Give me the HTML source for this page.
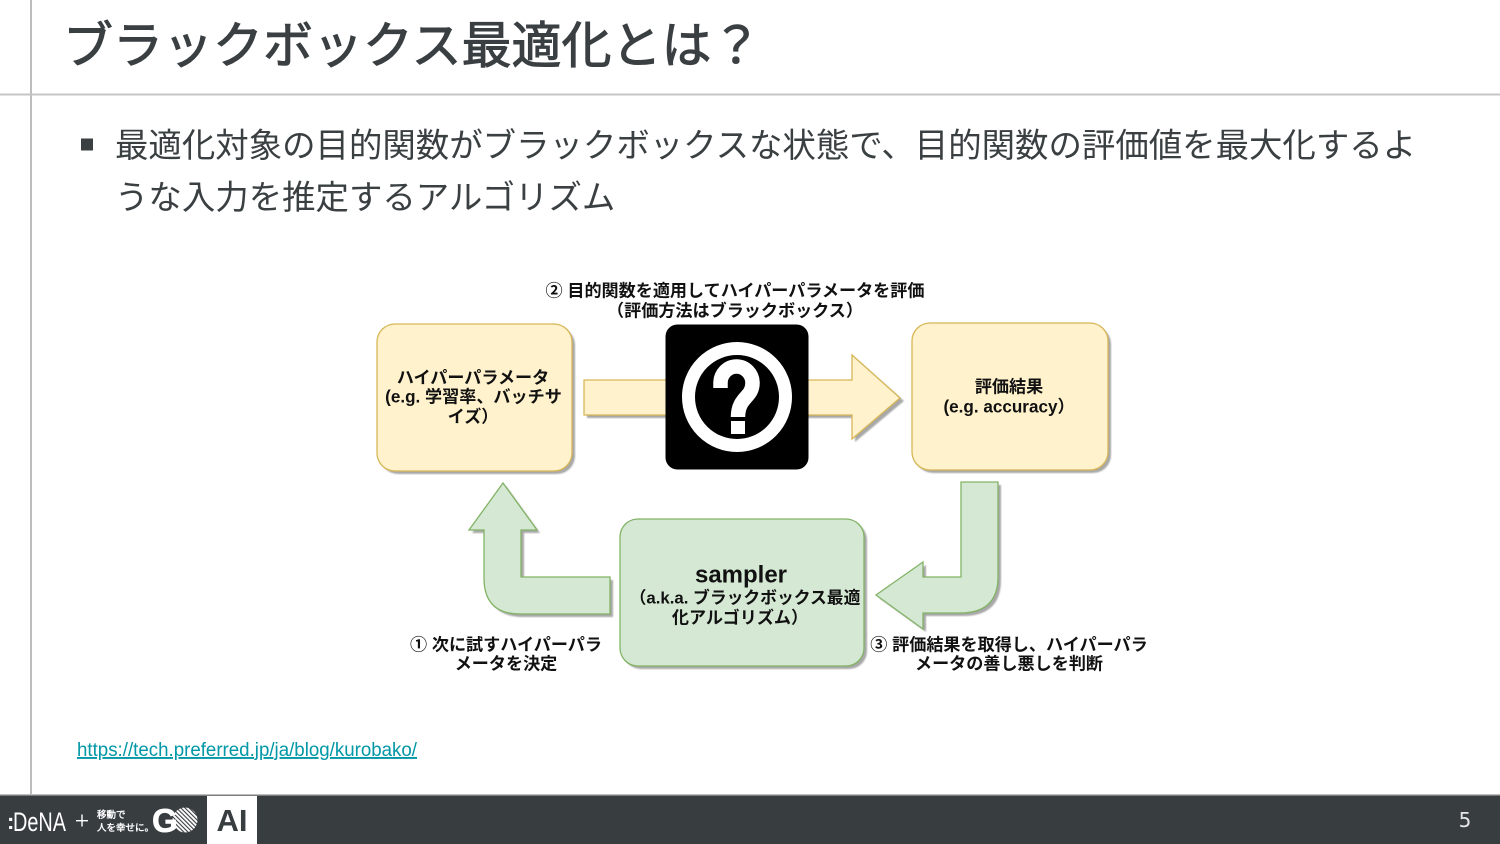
<!DOCTYPE html>
<html lang="ja"><head><meta charset="utf-8"><style>
html,body{margin:0;padding:0;background:#fff;width:1500px;height:844px;overflow:hidden}
svg{display:block}
.t{font-family:"WenQuanYi Zen Hei","Noto Sans CJK JP",sans-serif;fill:#3a3f42}
.l{font-family:"Liberation Sans","WenQuanYi Zen Hei","Noto Sans CJK JP",sans-serif;font-weight:700;font-size:17.1px;fill:#111;text-anchor:middle}
</style></head><body>
<svg width="1500" height="844" viewBox="0 0 1500 844" xmlns="http://www.w3.org/2000/svg">
<defs>
<filter id="b" x="-5%" y="-5%" width="110%" height="110%"><feGaussianBlur stdDeviation="0.8"/></filter>
<pattern id="h" width="3" height="3" patternUnits="userSpaceOnUse" patternTransform="rotate(45)"><rect width="3" height="3" fill="#383d40"/><rect width="3" height="1.900" fill="#fff"/></pattern>
</defs>
<rect width="1500" height="844" fill="#fff"/>
<rect x="30" y="0" width="2" height="795" fill="#bdbdbd"/>
<rect x="0" y="93.500" width="1500" height="2" fill="#c4c4c4"/>
<text class="t" x="63" y="63" font-size="50" stroke="#3a3f42" stroke-width="1">ブラックボックス最適化とは？</text>
<rect x="81" y="138.500" width="12" height="12" fill="#3a3f42"/>
<text class="t" x="115" y="157" font-size="33.43">最適化対象の目的関数がブラックボックスな状態で、目的関数の評価値を最大化するよ</text>
<text class="t" x="115" y="209" font-size="33.43">うな入力を推定するアルゴリズム</text>

<!-- shadows -->
<g fill="#a8a8a8" filter="url(#b)">
<rect x="380" y="327" width="195" height="147" rx="18"/>
<rect x="915" y="326" width="196" height="147" rx="18"/>
<rect x="623" y="522" width="244" height="147" rx="18"/>
<path d="M587 383H855V358L904 401L855 442V418H587Z"/>
<path d="M964 485H1001V580Q1001 616 963 616H926V632L879 598L926 565V580H964Z"/>
<path d="M487 533H472L506 486L540 533H524V580H613V617H523Q487 617 487 581Z"/>
</g>
<!-- boxes -->
<g stroke-width="1.300">
<rect x="377" y="324" width="195" height="147" rx="18" fill="#fff2cc" stroke="#d6b656"/>
<rect x="912" y="323" width="196" height="147" rx="18" fill="#fff2cc" stroke="#d6b656"/>
<path d="M584 380H852V355L900 398L852 439V415H584Z" fill="#fff2cc" stroke="#d6b656"/>
<rect x="620" y="519" width="244" height="147" rx="18" fill="#d5e8d4" stroke="#82b366"/>
<path d="M961 482H998V577Q998 613 960 613H923V629L876 595L923 562V577H961Z" fill="#d5e8d4" stroke="#82b366"/>
<path d="M484 530H469L503 483L537 530H521V577H610V614H520Q484 614 484 578Z" fill="#d5e8d4" stroke="#82b366"/>
</g>
<!-- black icon -->
<rect x="665.500" y="324.500" width="143" height="145" rx="12" fill="#000"/>
<circle cx="737" cy="397" r="48.500" fill="none" stroke="#fff" stroke-width="13"/>
<path d="M720.500 388V383A16 16.500 0 0 1 752.500 383C752.500 398 738 397 738 417" fill="none" stroke="#fff" stroke-width="14.500"/>
<rect x="731" y="421" width="14" height="13" fill="#fff"/>

<!-- labels -->
<text class="l" x="735" y="296.500">② 目的関数を適用してハイパーパラメータを評価</text>
<text class="l" x="735" y="316.500">（評価方法はブラックボックス）</text>
<text class="l" x="473" y="383.500">ハイパーパラメータ</text>
<text class="l" x="473.500" y="402.500">(e.g. 学習率、バッチサ</text>
<text class="l" x="473" y="422.500">イズ）</text>
<text class="l" x="1009" y="392.500">評価結果</text>
<text class="l" x="1009" y="412.500">(e.g. accuracy）</text>
<text class="l" x="741" y="582.500" style="font-size:24px">sampler</text>
<text class="l" x="745" y="603.500" style="font-size:16.8px">（a.k.a. ブラックボックス最適</text>
<text class="l" x="740" y="623.500">化アルゴリズム）</text>
<text class="l" x="506" y="650.500">① 次に試すハイパーパラ</text>
<text class="l" x="506" y="669.500">メータを決定</text>
<text class="l" x="1009" y="650.500">③ 評価結果を取得し、ハイパーパラ</text>
<text class="l" x="1009" y="669.500">メータの善し悪しを判断</text>

<text x="77" y="756" font-family="Liberation Sans, sans-serif" font-size="19" fill="#0097a7" text-decoration="underline" textLength="340" lengthAdjust="spacingAndGlyphs">https://tech.preferred.jp/ja/blog/kurobako/</text>

<!-- footer -->
<rect x="0" y="795" width="1500" height="49" fill="#383d40"/>
<rect x="0" y="794" width="1500" height="1.500" fill="#bdbdbd"/>
<rect x="207" y="796" width="50" height="48" fill="#fff"/>
<text x="232" y="831" text-anchor="middle" font-family="Liberation Sans, sans-serif" font-weight="700" font-size="31" fill="#383d40">AI</text>
<text x="7" y="829" font-family="Liberation Sans, sans-serif" font-weight="700" font-size="22" fill="#fff">:</text>
<text x="13" y="831" font-family="Liberation Sans, sans-serif" font-size="27" fill="#fff" textLength="53" lengthAdjust="spacingAndGlyphs">DeNA</text>
<rect x="76" y="820" width="12" height="1.400" fill="#fff"/>
<rect x="81.300" y="814.500" width="1.400" height="12" fill="#fff"/>
<text x="97" y="818" font-family="WenQuanYi Zen Hei, sans-serif" font-weight="700" font-size="9.500" fill="#fff">移動で</text>
<text x="97" y="831" font-family="WenQuanYi Zen Hei, sans-serif" font-weight="700" font-size="9.500" fill="#fff">人を幸せに。</text>
<circle cx="185" cy="820" r="12.500" fill="url(#h)"/>
<text x="152" y="832" font-family="Liberation Sans, sans-serif" font-weight="700" font-size="33" fill="#fff" stroke="#fff" stroke-width=".6">G</text>
<text x="1465" y="827" text-anchor="middle" font-family="DejaVu Sans, sans-serif" font-size="20" fill="#e6e6e6">5</text>
</svg>
</body></html>
